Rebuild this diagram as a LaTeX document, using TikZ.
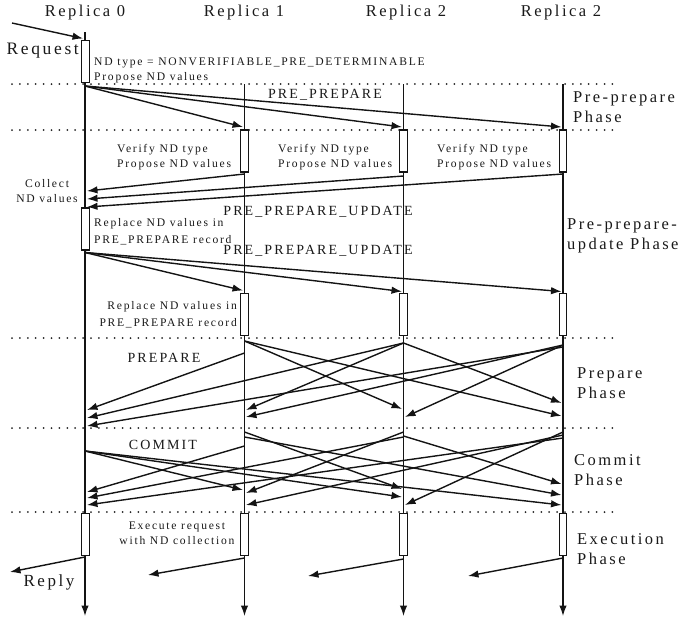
\documentclass[tikz,border=0pt]{standalone}
\usepackage{fontspec}
\setmainfont{Liberation Serif}[LetterSpace=15]
\usetikzlibrary{arrows.meta}
\newcommand\sendmsg[3]{%
  \coordinate (#1-s) at (#2); \coordinate (#1-e) at (#3);
  \draw[msg] (#1-s) -- (#1-e);}
\begin{document}
\begin{tikzpicture}[x=1pt,y=-1pt,
  msg/.style={line width=1.4pt,draw=black!92,-{Latex[length=10.5pt,width=7.5pt]}},
  life/.style={line width=1.4pt,draw=black!92,-{Latex[length=10.5pt,width=7.5pt]}},
  actbox/.style={draw=black!92,line width=1.2pt,fill=white,minimum width=7.5pt,minimum height=42pt,inner sep=0pt},
  sepline/.style={line width=2pt,draw=black!85,line cap=round,dash pattern=on 0pt off 7.9pt},
  txt/.style={inner sep=0pt,text=black!90},
  big/.style={txt,font=\fontsize{16.5}{20.5}\selectfont},
  med/.style={txt,font=\fontsize{14}{17}\selectfont},
  small/.style={txt,font=\fontsize{11.6}{15}\selectfont}]
\useasboundingbox (0,0) rectangle (697,621);
% separators
\foreach \yy/\nm in {84/a,130/b,338/c,428/d,512/e}
  {\coordinate (sep\nm-l) at (12,\yy); \coordinate (sep\nm-r) at (617,\yy);
   \draw[sepline] (sep\nm-l) -- (sep\nm-r);}
% headings
\node[big] (h0) at (85,12.5) {Replica 0};
\node[big] (h1) at (244,12.5) {Replica 1};
\node[big] (h2) at (406,12.5) {Replica 2};
\node[big] (h3) at (561,12.5) {Replica 2};
% lifelines
\coordinate (l0t) at (85,32);   \coordinate (l0b) at (85,616);
\coordinate (l1t) at (244.5,84); \coordinate (l1b) at (244.5,616);
\coordinate (l2t) at (403.5,84); \coordinate (l2b) at (403.5,616);
\coordinate (l3t) at (563,84);   \coordinate (l3b) at (563,616);
\draw[life] (l0t) -- (l0b);
\draw[life] (l1t) -- (l1b);
\draw[life] (l2t) -- (l2b);
\draw[life] (l3t) -- (l3b);
% request
\sendmsg{req}{12,23}{83,38.5}
% pre-prepare
\sendmsg{pp1}{85,86}{243,127}
\sendmsg{pp2}{85,86}{402,127}
\sendmsg{pp3}{85,86}{561.5,127}
% ND values back
\sendmsg{nd1}{244.5,174}{87,191}
\sendmsg{nd2}{403.5,176}{87,199}
\sendmsg{nd3}{563,174}{87,207}
% pre-prepare-update
\sendmsg{up1}{85,252.5}{243,290.5}
\sendmsg{up2}{85,252.5}{402,291.5}
\sendmsg{up3}{85,252.5}{561.5,291.5}
% prepare
\sendmsg{p10}{244.5,353}{87,410}
\sendmsg{p12}{244.5,341}{402,409}
\sendmsg{p13}{244.5,341}{561.5,416}
\sendmsg{p20}{403.5,343}{87,418}
\sendmsg{p21}{403.5,343}{246,410}
\sendmsg{p23}{403.5,343}{561.5,403}
\sendmsg{p30}{563,347}{87,426}
\sendmsg{p31}{563,345}{246,417}
\sendmsg{p32}{563,345}{405,417}
% commit
\sendmsg{c01}{85,451}{243,490}
\sendmsg{c02}{85,451}{402,497}
\sendmsg{c03}{85,451}{561.5,505}
\sendmsg{c10}{244.5,446}{87,492}
\sendmsg{c12}{244.5,432}{402,489}
\sendmsg{c13}{244.5,437}{561.5,495}
\sendmsg{c20}{403.5,437}{87,498}
\sendmsg{c21}{403.5,432}{246,493}
\sendmsg{c23}{403.5,436}{561.5,484}
\sendmsg{c30}{563,438}{87,505}
\sendmsg{c31}{563,435}{246,505}
\sendmsg{c32}{563,432}{405,505}
% replies
\sendmsg{r0}{85,557}{10,572}
\sendmsg{r1}{244.5,558}{148,575}
\sendmsg{r2}{403.5,559}{308,576}
\sendmsg{r3}{563,558}{468,576}
% activation boxes
\node[actbox] (b0a) at (85.5,61.5) {};
\node[actbox] (b0b) at (85.5,229) {};
\node[actbox] (b0c) at (85.5,534.5) {};
\foreach \xx/\i in {244.5/1,403.5/2,563/3}{
  \node[actbox] (b\i a) at (\xx,151) {};
  \node[actbox] (b\i b) at (\xx,314.5) {};
  \node[actbox] (b\i c) at (\xx,534.5) {};
}
% texts
\node[big,anchor=east,font=\fontsize{17.5}{21}\selectfont] (request) at (79,51) {Request};
\node[small,anchor=west,align=left] (ndtype) at (94,70) {ND type = NONVERIFIABLE\_PRE\_DETERMINABLE\\Propose ND values};
\node[med] (lpp) at (325,95) {PRE\_PREPARE};
\node[small,anchor=west,align=left] (v1) at (117,157.5) {Verify ND type\\Propose ND values};
\node[small,anchor=west,align=left] (v2) at (278,157.5) {Verify ND type\\Propose ND values};
\node[small,anchor=west,align=left] (v3) at (437,157.5) {Verify ND type\\Propose ND values};
\node[small,align=center] (collect) at (47,191.5) {Collect\\ND values};
\node[small,anchor=west,align=left,font=\fontsize{11.6}{17}\selectfont] (rep0) at (94,231.5) {Replace ND values in\\PRE\_PREPARE record};
\node[med] (lup1) at (318,212) {PRE\_PREPARE\_UPDATE};
\node[med] (lup2) at (318,251) {PRE\_PREPARE\_UPDATE};
\node[small,anchor=east,align=right,font=\fontsize{11.6}{17}\selectfont] (rep1) at (237,314.5) {Replace ND values in\\PRE\_PREPARE record};
\node[med] (lprep) at (164,358) {PREPARE};
\node[med] (lcom) at (163,445) {COMMIT};
\node[small,align=center] (exec) at (177,533.5) {Execute request\\with ND collection};
\node[big,font=\fontsize{17}{21}\selectfont] (reply) at (49,582) {Reply};
\node[big,anchor=west,align=left] (ph1) at (573,107) {Pre-prepare\\Phase};
\node[big,anchor=west,align=left] (ph2) at (567,236) {Pre-prepare-\\update Phase};
\node[big,anchor=west,align=left] (ph3) at (577,383) {Prepare\\Phase};
\node[big,anchor=west,align=left] (ph4) at (574,470) {Commit\\Phase};
\node[big,anchor=west,align=left] (ph5) at (577,549) {Execution\\Phase};
\end{tikzpicture}
\end{document}
